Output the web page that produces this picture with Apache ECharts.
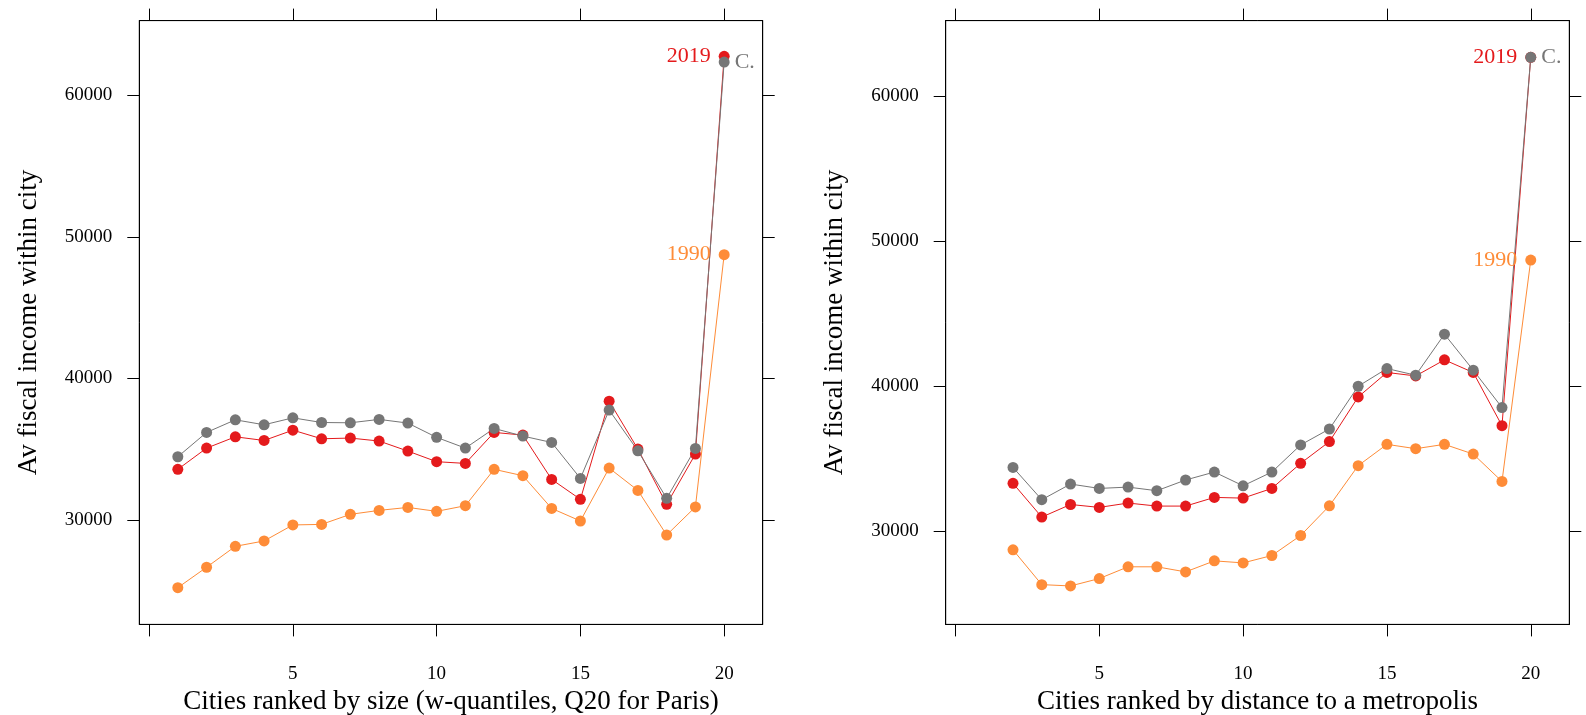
<!DOCTYPE html>
<html>
<head>
<meta charset="utf-8">
<script src="https://cdn.jsdelivr.net/npm/echarts@6/dist/echarts.min.js"></script>
<style>
  html, body { margin: 0; padding: 0; background: #fff; }
  #chart { width: 1586px; height: 715px; }
</style>
</head>
<body>
<div id="chart"></div>
<script>
// left panel: cities ranked by size (Q1..Q20)
var sizeRank = [1, 2, 3, 4, 5, 6, 7, 8, 9, 10, 11, 12, 13, 14, 15, 16, 17, 18, 19, 20];
var sizeC    = [34470, 36190, 37080, 36730, 37220, 36890, 36870, 37110, 36850, 35840, 35080, 36470, 35930, 35480, 32940, 37770, 34890, 31530, 35060, 62360];
var size2019 = [33580, 35080, 35880, 35620, 36350, 35740, 35790, 35580, 34870, 34120, 34000, 36190, 36000, 32870, 31460, 38400, 35010, 31110, 34660, 62770];
var size1990 = [25220, 26660, 28140, 28520, 29650, 29690, 30400, 30680, 30890, 30610, 31010, 33580, 33130, 30820, 29930, 33670, 32090, 28940, 30920, 48750];

// right panel: cities ranked by distance to a metropolis
var distRank = [2, 3, 4, 5, 6, 7, 8, 9, 10, 11, 12, 13, 14, 15, 16, 17, 18, 19, 20];
var distC    = [34400, 32170, 33250, 32950, 33040, 32790, 33530, 34080, 33130, 34080, 35950, 37050, 40000, 41220, 40760, 43590, 41110, 38530, 62700];
var dist2019 = [33300, 30970, 31840, 31640, 31940, 31730, 31730, 32330, 32280, 32950, 34680, 36180, 39260, 40950, 40710, 41820, 40950, 37280, 62700];
var dist1990 = [28710, 26310, 26220, 26730, 27540, 27540, 27190, 27950, 27810, 28320, 29700, 31750, 34520, 35990, 35690, 35990, 35320, 33430, 48710];

var xTicks = [0, 5, 10, 15, 20];
var xLabels = [5, 10, 15, 20];
var yTicks = [30000, 40000, 50000, 60000];

var RED = '#E41A1C', ORANGE = '#FE8C38', GRAY = '#767676';
var FONT = 'Liberation Serif';

var chart = echarts.init(document.getElementById('chart'));

function xAx(gi, pos, name, labels) {
  return {
    type: 'value', gridIndex: gi, position: pos, min: -0.34, max: 21.34,
    name: name, nameLocation: 'middle', nameGap: 63,
    nameTextStyle: { fontFamily: FONT, fontSize: 27, color: '#000' },
    axisLine: { show: true, onZero: false, lineStyle: { color: '#000', width: 1 } },
    axisTick: { show: true, inside: false, length: 12, customValues: xTicks, lineStyle: { color: '#000' } },
    axisLabel: { show: labels, margin: 40, customValues: xLabels, fontFamily: FONT, fontSize: 19, color: '#000' },
    splitLine: { show: false }
  };
}
function yAx(gi, pos, min, max, labels) {
  return {
    type: 'value', gridIndex: gi, position: pos, min: min, max: max,
    name: labels ? 'Av fiscal income within city' : '', nameLocation: 'middle', nameGap: 97,
    nameTextStyle: { fontFamily: FONT, fontSize: 27, color: '#000' },
    axisLine: { show: true, onZero: false, lineStyle: { color: '#000', width: 1 } },
    axisTick: { show: true, inside: false, length: 12, customValues: yTicks, lineStyle: { color: '#000' } },
    axisLabel: { show: labels, margin: 27, customValues: yTicks, formatter: function (v) { return String(v); },
      fontFamily: FONT, fontSize: 19, color: '#000' },
    splitLine: { show: false }
  };
}

function pts(xs, ys, lab, pos, color) {
  return xs.map(function (x, i) {
    var d = { value: [x, ys[i]] };
    if (i === xs.length - 1 && lab) {
      d.label = { show: true, formatter: lab, position: pos, distance: pos === 'left' ? 8 : 5,
        color: color, fontFamily: FONT, fontSize: 22 };
    }
    return d;
  });
}

function line(xi, yi, data, color) {
  return {
    type: 'line', xAxisIndex: xi, yAxisIndex: yi, data: data,
    symbol: 'circle', symbolSize: 11, color: color,
    lineStyle: { color: color, width: 1 }, itemStyle: { color: color },
    animation: false, silent: true
  };
}

chart.setOption({
  backgroundColor: '#fff',
  grid: [
    { left: 139.3, top: 20.6, width: 623.4, height: 603.8, outerBoundsMode: 'none', show: true, borderColor: '#000', borderWidth: 1 },
    { left: 945.7, top: 20.6, width: 623.6, height: 603.8, outerBoundsMode: 'none', show: true, borderColor: '#000', borderWidth: 1 }
  ],
  xAxis: [
    xAx(0, 'bottom', 'Cities ranked by size (w-quantiles, Q20 for Paris)', true),
    xAx(0, 'top', '', false),
    xAx(1, 'bottom', 'Cities ranked by distance to a metropolis', true),
    xAx(1, 'top', '', false)
  ],
  yAxis: [
    yAx(0, 'left', 22622, 65293, true),
    yAx(0, 'right', 22622, 65293, false),
    yAx(1, 'left', 23566, 65231, true),
    yAx(1, 'right', 23566, 65231, false)
  ],
  series: [
    line(0, 0, pts(sizeRank, size1990, '1990', 'left', ORANGE), ORANGE),
    line(0, 0, pts(sizeRank, size2019, '2019', 'left', RED), RED),
    line(0, 0, pts(sizeRank, sizeC, 'C.', 'right', GRAY), GRAY),
    line(2, 2, pts(distRank, dist1990, '1990', 'left', ORANGE), ORANGE),
    line(2, 2, pts(distRank, dist2019, '2019', 'left', RED), RED),
    line(2, 2, pts(distRank, distC, 'C.', 'right', GRAY), GRAY)
  ]
});
</script>
</body>
</html>
